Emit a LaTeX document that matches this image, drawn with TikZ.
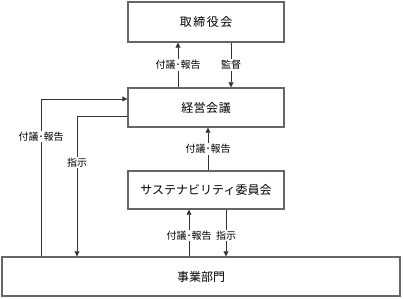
\documentclass[tikz,border=0pt]{standalone}
\usepackage{fontspec}
\setmainfont{Noto Sans CJK JP}
\usetikzlibrary{arrows.meta}
\begin{document}
\begin{tikzpicture}[x=1pt,y=-1pt,
  box/.style={draw=black!60,line width=1.4pt,inner sep=0pt,font=\fontsize{12}{14}\selectfont},
  lbl/.style={fill=white,inner sep=1pt,font=\fontsize{10}{12}\selectfont},
  conn/.style={draw=black!80,line width=0.6pt,-{Triangle[length=5pt,width=5pt]}}]
\useasboundingbox (0,0) rectangle (404,299);
\node[box,minimum width=156pt,minimum height=40pt] (board) at (206,22) {取\hspace{1.5pt}締\hspace{1.5pt}役\hspace{1.5pt}会};
\node[box,minimum width=156pt,minimum height=39pt] (mgmt) at (206,107.5) {経\hspace{0.5pt}営\hspace{0.5pt}会\hspace{0.5pt}議};
\node[box,minimum width=156pt,minimum height=38pt] (sus) at (206,190) {サステナビリティ委員会};
\node[box,minimum width=398pt,minimum height=39pt] (biz) at (201,276.5) {事業部門};
% board <-> mgmt
\draw[conn] (mgmt.north -| 178,0) -- node[lbl,pos=0.5] {付議･報告} (board.south -| 178,0);
\draw[conn] (board.south -| 231,0) -- node[lbl,pos=0.5] {監督} (mgmt.north -| 231,0);
% sus -> mgmt
\draw[conn] (sus.north -| 208,0) -- node[lbl,pos=0.5] {付議･報告} (mgmt.south -| 208,0);
% biz <-> sus
\draw[conn] (biz.north -| 189,0) -- node[lbl,pos=0.45] {付議･報告} (sus.south -| 189,0);
\draw[conn] (sus.south -| 226,0) -- node[lbl,pos=0.55] {指示} (biz.north -| 226,0);
% left loops
\coordinate (l1) at (41,99);
\coordinate (l2) at (77,116);
\draw[conn] (biz.north -| l1) -- node[lbl,pos=0.76] {付議･報告} (l1) -- (mgmt.west |- l1);
\draw[conn] (mgmt.west |- l2) -- (l2) -- node[lbl,pos=0.33] {指示} (biz.north -| l2);
\end{tikzpicture}
\end{document}
